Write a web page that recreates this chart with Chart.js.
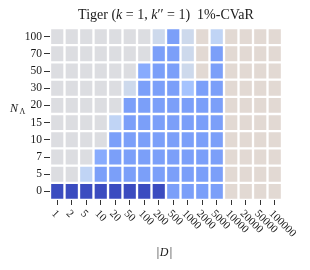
<!DOCTYPE html>
<html>
<head>
<meta charset="utf-8">
<script src="https://cdn.jsdelivr.net/npm/chart.js@4/dist/chart.umd.min.js"></script>
<style>
  html, body { margin: 0; padding: 0; background: #fff; }
</style>
</head>
<body>
<canvas id="heat" width="310" height="270"></canvas>
<script>
const colLabels = ["1", "2", "5", "10", "20", "50", "100", "200", "500", "1000", "2000", "5000", "10000", "20000", "50000", "100000"]
const rowLabels = ["0", "5", "7", "10", "15", "20", "30", "50", "70", "100"]

// cell values per row of N, bottom row first (0 = dark blue, 0.5 = neutral grey, above = warm)
const cellValues = [
  [0, 0, 0, 0, 0, 0, 0, 0, 0.2, 0.2, 0.2, 0.2, 0.55, 0.55, 0.55, 0.55],
  [0.5, 0.5, 0.38, 0.2, 0.2, 0.2, 0.2, 0.2, 0.2, 0.2, 0.2, 0.2, 0.55, 0.55, 0.55, 0.55],
  [0.5, 0.5, 0.5, 0.25, 0.2, 0.2, 0.2, 0.2, 0.2, 0.2, 0.2, 0.2, 0.55, 0.55, 0.55, 0.55],
  [0.5, 0.5, 0.5, 0.5, 0.2, 0.2, 0.2, 0.2, 0.2, 0.2, 0.2, 0.2, 0.55, 0.55, 0.55, 0.55],
  [0.5, 0.5, 0.5, 0.5, 0.38, 0.2, 0.2, 0.2, 0.2, 0.2, 0.2, 0.2, 0.55, 0.55, 0.55, 0.55],
  [0.5, 0.5, 0.5, 0.5, 0.5, 0.2, 0.2, 0.2, 0.2, 0.2, 0.2, 0.2, 0.55, 0.55, 0.55, 0.55],
  [0.5, 0.5, 0.5, 0.5, 0.5, 0.43, 0.2, 0.2, 0.2, 0.3, 0.2, 0.2, 0.55, 0.55, 0.55, 0.55],
  [0.5, 0.5, 0.5, 0.5, 0.5, 0.5, 0.25, 0.2, 0.2, 0.43, 0.55, 0.2, 0.55, 0.55, 0.55, 0.55],
  [0.5, 0.5, 0.5, 0.5, 0.5, 0.5, 0.5, 0.2, 0.2, 0.43, 0.55, 0.2, 0.55, 0.55, 0.55, 0.55],
  [0.5, 0.5, 0.5, 0.5, 0.5, 0.5, 0.5, 0.43, 0.2, 0.43, 0.55, 0.38, 0.55, 0.55, 0.55, 0.55],
]

// coolwarm-ish colour stops
const cmap = [
  [0, [59, 76, 192]],
  [0.2, [123, 159, 249]],
  [0.25, [136, 171, 253]],
  [0.3, [165, 195, 254]],
  [0.38, [192, 212, 245]],
  [0.43, [205, 217, 236]],
  [0.5, [220, 221, 225]],
  [0.55, [226, 217, 211]],
  [1, [180, 4, 38]],
]

const colorFor = (v) => {
  for (let i = 1; i < cmap.length; i++) {
    const [v1, c1] = cmap[i]
    const [v0, c0] = cmap[i - 1]
    if (v <= v1) {
      const t = (v - v0) / (v1 - v0)
      const c = c0.map((a, k) => Math.round(a + (c1[k] - a) * t))
      return `rgb(${c[0]},${c[1]},${c[2]})`
    }
  }
  return "rgb(180,4,38)"
}

const SERIF = '"Liberation Serif", "DejaVu Serif", serif'

// draws title, rotated x tick labels and the axis labels
const extraText = {
  id: "extraText",
  afterDraw(chart) {
    const { ctx, chartArea, scales } = chart
    ctx.save()
    ctx.fillStyle = "#1a1a1a"
    ctx.textBaseline = "alphabetic"

    // title with italic k's
    const parts = [
      ["Tiger (", ""], ["k", "italic "], [" = 1, ", ""], ["k", "italic "], ["\u2032\u2032 = 1)  1%-CVaR", ""]
    ]
    let total = 0
    parts.forEach(([t, st]) => { ctx.font = `${st}14px ${SERIF}`; total += ctx.measureText(t).width })
    let x = (chartArea.left + chartArea.right) / 2 - total / 2
    parts.forEach(([t, st]) => {
      ctx.font = `${st}14px ${SERIF}`
      ctx.fillText(t, x, 19)
      x += ctx.measureText(t).width
    })

    // x tick labels, rotated down-right
    ctx.font = `11px ${SERIF}`
    ctx.textAlign = "left"
    ctx.textBaseline = "middle"
    colLabels.forEach((lab, i) => {
      const px = scales.x.getPixelForTick(i)
      ctx.save()
      ctx.translate(px - 4, scales.x.top + 12)
      ctx.rotate(Math.PI / 4)
      ctx.fillText(lab, 0, 0)
      ctx.restore()
    })

    // x axis label |D|
    ctx.textBaseline = "alphabetic"
    ctx.textAlign = "center"
    ctx.font = `12px ${SERIF}`
    const cx = (chartArea.left + chartArea.right) / 2 - 2
    ctx.fillText("|", cx - 6, 256)
    ctx.fillText("|", cx + 7, 256)
    ctx.font = `italic 12px ${SERIF}`
    ctx.fillText("D", cx, 256)

    // y axis label N_Lambda
    ctx.textAlign = "left"
    ctx.font = `italic 12px ${SERIF}`
    ctx.fillText("N", 10, 112)
    ctx.font = `8px ${SERIF}`
    ctx.fillText("\u039b", 19.5, 114)
    ctx.restore()
  }
}

new Chart(document.getElementById("heat"), {
  type: "bar",
  data: {
    labels: colLabels,
    datasets: rowLabels.map((r, i) => ({
      label: r,
      data: colLabels.map(() => 1),
      backgroundColor: cellValues[i].map(colorFor),
      borderColor: "#ffffff",
      borderWidth: 1.5,
      borderSkipped: false,
      barPercentage: 1,
      categoryPercentage: 1,
    })),
  },
  options: {
    responsive: false,
    devicePixelRatio: 1,
    animation: false,
    layout: { padding: { left: 0, right: 28, top: 28, bottom: 64 } },
    plugins: { legend: { display: false }, tooltip: { enabled: false }, title: { display: false } },
    scales: {
      x: {
        stacked: true,
        border: { display: false },
        grid: { offset: false, drawOnChartArea: false, tickLength: 5, tickColor: "#333", tickWidth: 1 },
        ticks: { display: false },
        afterFit: (s) => { s.height = 6 },
      },
      y: {
        stacked: true,
        min: 0,
        max: rowLabels.length,
        border: { display: false },
        grid: { drawOnChartArea: false, tickLength: 6, tickColor: "#333", tickWidth: 1 },
        afterBuildTicks: (axis) => { axis.ticks = rowLabels.map((_, i) => ({ value: i + 0.5 })) },
        ticks: {
          padding: 2,
          color: "#1a1a1a",
          font: { family: SERIF, size: 11.5 },
          callback: (v, idx) => rowLabels[idx],
        },
        afterFit: (s) => { s.width = 50 },
      },
    },
  },
  plugins: [extraText],
})
</script>
</body>
</html>
